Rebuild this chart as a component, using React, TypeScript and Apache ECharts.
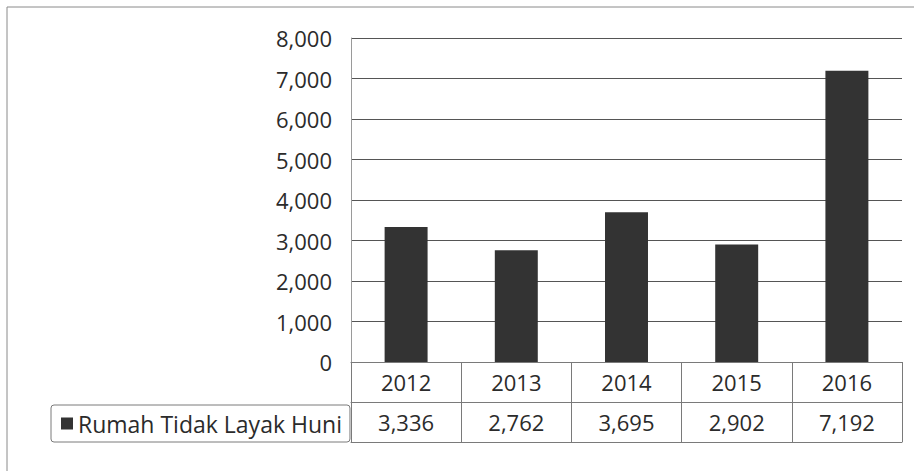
import React, { useEffect, useRef } from "react";
import * as echarts from "echarts";

const categories = ["2012", "2013", "2014", "2015", "2016"];
const seriesName = "Rumah Tidak Layak Huni";
const values = [3336, 2762, 3695, 2902, 7192];
const yMin = 0;
const yMax = 8000;
const yInterval = 1000;

const fmt = (v: number) => v.toLocaleString("en-US");
const FONT = "'Open Sans', 'Noto Sans', sans-serif";
const TEXT = "#2b2b2b";
const LINE = "#7a7a7a";

export default function App() {
  const ref = useRef<HTMLDivElement>(null);
  useEffect(() => {
    if (!ref.current) return;
    const chart = echarts.init(ref.current, null, { renderer: "svg" });
    chart.setOption({
      animation: false,
      backgroundColor: "#ffffff",
      textStyle: { fontFamily: FONT },
      grid: { left: 351, right: 17, top: 38, bottom: 109, containLabel: false },
      legend: {
        data: [seriesName],
        left: 51,
        top: 405,
        orient: "horizontal",
        icon: "rect",
        itemWidth: 12,
        itemHeight: 12,
        itemGap: 5,
        padding: [7, 8, 7, 10],
        borderColor: LINE,
        borderWidth: 1,
        borderRadius: 3,
        textStyle: { fontSize: 23, color: TEXT, fontFamily: FONT },
      },
      xAxis: [
        {
          type: "category",
          data: categories,
          position: "bottom",
          boundaryGap: true,
          axisLine: { show: true, lineStyle: { color: LINE, width: 1 } },
          axisTick: { show: true, length: 80, interval: 0, lineStyle: { color: LINE } },
          axisLabel: { fontSize: 22, color: TEXT, margin: 9, fontFamily: FONT },
        },
        {
          type: "category",
          data: values.map(fmt),
          position: "bottom",
          offset: 40,
          boundaryGap: true,
          axisLine: { show: true, lineStyle: { color: LINE, width: 1 } },
          axisTick: { show: false },
          axisLabel: { fontSize: 22, color: TEXT, margin: 9, fontFamily: FONT },
        },
        {
          type: "category",
          data: categories,
          position: "bottom",
          offset: 80,
          boundaryGap: true,
          axisLine: { show: true, lineStyle: { color: LINE, width: 1 } },
          axisTick: { show: false },
          axisLabel: { show: false },
        },
      ],
      yAxis: {
        type: "value",
        min: yMin,
        max: yMax,
        interval: yInterval,
        axisLine: { show: true, lineStyle: { color: "#9a9a9a" } },
        axisTick: { show: false },
        axisLabel: {
          fontSize: 22,
          color: TEXT,
          margin: 19,
          fontFamily: FONT,
          formatter: (v: number) => fmt(v),
        },
        splitLine: { show: true, lineStyle: { color: "#555555", width: 1 } },
      },
      series: [
        {
          name: seriesName,
          type: "bar",
          xAxisIndex: 0,
          data: values,
          barWidth: "39%",
          itemStyle: { color: "#333333" },
        },
      ],
      graphic: [
        {
          type: "line",
          shape: { x1: 7, y1: 7, x2: 914, y2: 7 },
          style: { stroke: "#8a8a8a", lineWidth: 1 },
          silent: true,
        },
        {
          type: "line",
          shape: { x1: 7, y1: 7, x2: 7, y2: 471 },
          style: { stroke: "#8a8a8a", lineWidth: 1 },
          silent: true,
        },
      ],
    });
    return () => chart.dispose();
  }, []);
  return (
    <div
      ref={ref}
      style={{ position: "fixed", left: 0, top: 0, width: 919, height: 471, background: "#fff" }}
    />
  );
}
